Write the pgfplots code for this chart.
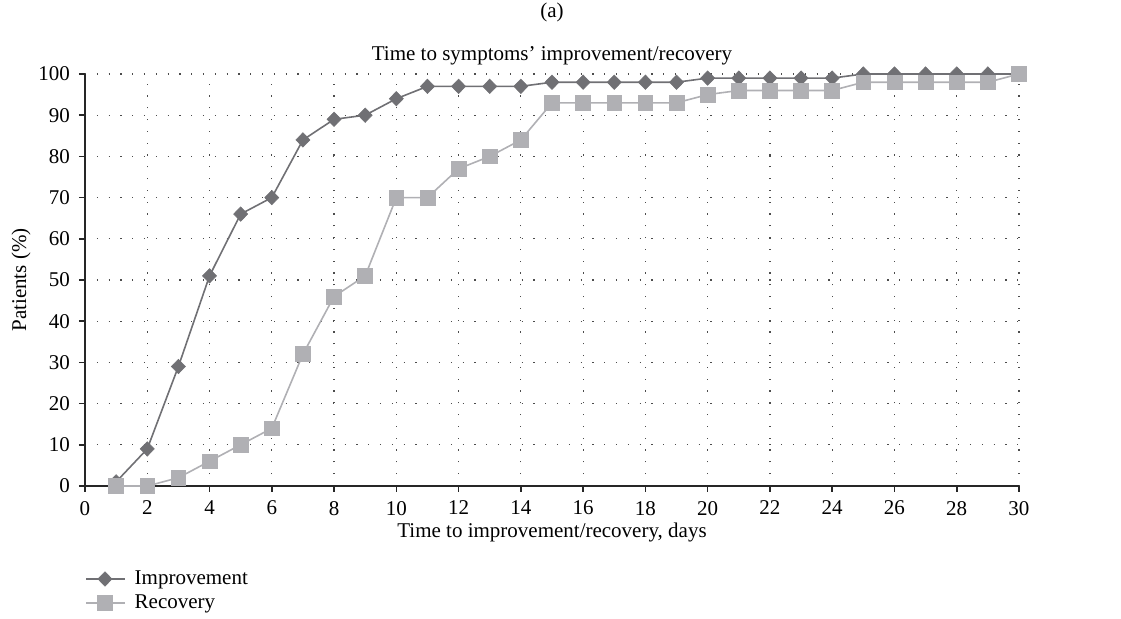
\documentclass[border=0pt]{standalone}
\usepackage{fontspec}
\setmainfont{Liberation Serif}
\usepackage{pgfplots}
\pgfplotsset{compat=1.18}
\definecolor{impc}{RGB}{112,112,116}
\definecolor{recc}{RGB}{176,176,180}
\begin{document}
\begin{tikzpicture}
\useasboundingbox (-42.5pt,-66.5pt) rectangle (518pt,243pt);
\begin{axis}[
  at={(0,0)}, anchor=south west,
  scale only axis, width=467pt, height=206pt,
  xmin=0, xmax=30, ymin=0, ymax=100,
  xtick={0,2,...,30}, ytick={0,10,...,100},
  axis x line=bottom, axis y line=left,
  axis line style={black!85, line width=0.8pt, -},
  tick style={black!85, line width=0.8pt},
  tick align=outside, major tick length=3pt,
  grid=major,
  major grid style={black!70, line width=0.6pt, dash pattern=on 0.6pt off 5.3pt},
  /pgf/number format/assume math mode=true,
  tick label style={font=\fontsize{10.5}{12}\selectfont},
  xticklabel style={yshift=-1pt},
  yticklabel style={xshift=-1pt},
  xlabel={Time to improvement/recovery, days},
  ylabel={Patients (\%)},
  label style={font=\fontsize{10.5}{12}\selectfont},
  xlabel style={yshift=3pt},
  ylabel style={yshift=-3pt},
  title={Time to symptoms' improvement/recovery},
  title style={font=\fontsize{10.5}{12}\selectfont, yshift=-5pt},
  legend style={at={(0,-0.185)}, anchor=north west, draw=none, fill=none, inner xsep=0pt,
    font=\fontsize{10.5}{12}\selectfont, row sep=-0.5pt,
    nodes={inner xsep=4.5pt}},
  legend cell align=left,
  legend image code/.code={\draw[mark repeat=2,mark phase=2] plot coordinates {(0cm,0cm) (0.33cm,0cm) (0.68cm,0cm)};},
  clip=false,
]
\addplot[impc, line width=0.8pt, mark=diamond*, mark size=3.6pt, mark options={fill=impc, draw=impc, line width=0.3pt, xscale=1.3}]
 coordinates {(1,1)(2,9)(3,29)(4,51)(5,66)(6,70)(7,84)(8,89)(9,90)(10,94)(11,97)(12,97)(13,97)(14,97)(15,98)(16,98)(17,98)(18,98)(19,98)(20,99)(21,99)(22,99)(23,99)(24,99)(25,100)(26,100)(27,100)(28,100)(29,100)(30,100)};
\addlegendentry{Improvement}
\addplot[recc, line width=0.8pt, mark=square*, mark size=3.7pt, mark options={fill=recc, draw=recc, line width=0.3pt}]
 coordinates {(1,0)(2,0)(3,2)(4,6)(5,10)(6,14)(7,32)(8,46)(9,51)(10,70)(11,70)(12,77)(13,80)(14,84)(15,93)(16,93)(17,93)(18,93)(19,93)(20,95)(21,96)(22,96)(23,96)(24,96)(25,98)(26,98)(27,98)(28,98)(29,98)(30,100)};
\addlegendentry{Recovery}
\node[font=\fontsize{10.5}{12}\selectfont] at (rel axis cs:0.5,1) [yshift=31pt] {(a)};
\end{axis}
\end{tikzpicture}
\end{document}
